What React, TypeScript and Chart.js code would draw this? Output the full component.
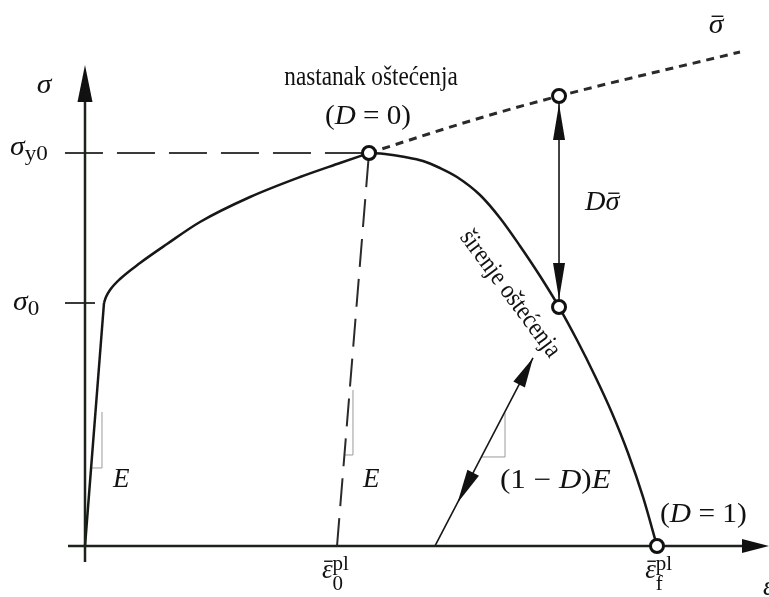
import React, { useEffect, useRef } from "react";
import { Chart, registerables } from "chart.js";

Chart.register(...registerables);

// ---------- data (strain normalised by ε̄f^pl, stress normalised by σy0) ----------
const X_RANGE = [-0.1486, 1.1958];
const Y_RANGE = [-0.1298, 1.3893];

const elasticEps = [0, 0.0332];
const elasticSig = [0, 0.6183];

const hardeningEps = [0.0332, 0.0367, 0.0437, 0.0612, 0.0962, 0.1434, 0.201, 0.2885, 0.3759, 0.4458, 0.4965];
const hardeningSig = [0.6183, 0.6336, 0.6514, 0.6794, 0.7201, 0.7684, 0.8244, 0.888, 0.9389, 0.9746, 1.0];

const softeningEps = [0.4965, 0.5245, 0.5594, 0.5909, 0.6206, 0.6503, 0.6906, 0.7255, 0.7605, 0.7955, 0.8287, 0.8601, 0.8916, 0.9213, 0.9493, 0.9755, 1.0];
const softeningSig = [1.0, 0.9975, 0.9898, 0.9796, 0.9618, 0.9389, 0.8931, 0.8346, 0.7634, 0.687, 0.6081, 0.5242, 0.4326, 0.3384, 0.2366, 0.1247, 0];

const effectiveEps = [0.4965, 0.6906, 0.8287, 1.1451];
const effectiveSig = [1.0, 1.0891, 1.145, 1.257];

const unloadEps = [0.4406, 0.4965];
const unloadSig = [0, 1.0];

const reloadEps = [0.6119, 0.7832];
const reloadSig = [0, 0.4784];

const dSigmaEps = [0.8287, 0.8287];
const dSigmaSig = [1.145, 0.6081];

const markerEps = [0.4965, 0.8287, 0.8287, 1.0];
const markerSig = [1.0, 1.145, 0.6081, 0];

const yieldLineEps = [-0.035, 0.4965];
const yieldLineSig = [1.0, 1.0];
const sigma0TickEps = [-0.035, 0.0175];
const sigma0TickSig = [0.6183, 0.6183];

const xAxisEps = [-0.0297, 1.15];
const xAxisSig = [0, 0];
const yAxisEps = [0, 0];
const yAxisSig = [-0.0407, 1.13];
const X_ARROW_TIP = 1.1958;
const Y_ARROW_TIP = 1.2239;

const slope1Eps = [0.0107, 0.0297, 0.0297];
const slope1Sig = [0.1985, 0.1985, 0.341];
const slope2Eps = [0.4535, 0.4685, 0.4685];
const slope2Sig = [0.2316, 0.2316, 0.397];
const slope3Eps = [0.693, 0.7343, 0.7343];
const slope3Sig = [0.2265, 0.2265, 0.3384];

// tick / annotation labels
const yTickLabels = [
  { main: "σ", sub: "y0", eps: -0.1311, sig: 0.9949 },
  { main: "σ", sub: "0", eps: -0.1259, sig: 0.6005 },
];
const xTickLabels = [
  { sub: "0", eps: 0.4143, sig: -0.0814 },
  { sub: "f", eps: 0.9794, sig: -0.0814 },
];

const SERIF = '"Liberation Serif", "Times New Roman", serif';

type Run = { t: string; size: number; italic?: boolean; dy?: number; bar?: boolean; back?: boolean };

function fontOf(r: Run) {
  return `${r.italic ? "italic " : ""}${r.size}px ${SERIF}`;
}

function drawRuns(ctx: CanvasRenderingContext2D, runs: Run[], x: number, y: number, align: "left" | "center", sx = 1) {
  ctx.save();
  ctx.textBaseline = "alphabetic";
  ctx.textAlign = "left";
  const widths = runs.map((r) => {
    ctx.font = fontOf(r);
    return ctx.measureText(r.t).width;
  });
  let total = 0;
  runs.forEach((r, i) => {
    if (r.back) total -= widths[i - 1];
    total += widths[i];
  });
  ctx.translate(x, y);
  ctx.scale(sx, 1);
  let cx = align === "center" ? -total / 2 : 0;
  runs.forEach((r, i) => {
    ctx.font = fontOf(r);
    if (r.back) cx -= widths[i - 1];
    const dy = r.dy || 0;
    ctx.fillText(r.t, cx, dy);
    if (r.bar) {
      ctx.beginPath();
      ctx.lineWidth = 1.4;
      ctx.moveTo(cx + widths[i] * 0.2, dy - r.size * 0.62);
      ctx.lineTo(cx + widths[i] * 1.0, dy - r.size * 0.62);
      ctx.stroke();
    }
    cx += widths[i];
  });
  ctx.restore();
}

function head(ctx: CanvasRenderingContext2D, tx: number, ty: number, fx: number, fy: number, len: number, hw: number) {
  const a = Math.atan2(ty - fy, tx - fx);
  const bx = tx - len * Math.cos(a);
  const by = ty - len * Math.sin(a);
  const nx = -Math.sin(a) * hw;
  const ny = Math.cos(a) * hw;
  ctx.beginPath();
  ctx.moveTo(tx, ty);
  ctx.lineTo(bx + nx, by + ny);
  ctx.lineTo(bx - nx, by - ny);
  ctx.closePath();
  ctx.fill();
}

const pts = (xs: number[], ys: number[]) => xs.map((x, i) => ({ x, y: ys[i] }));

const annotPlugin = {
  id: "annot",
  afterDatasetsDraw(chart: any) {
    const ctx: CanvasRenderingContext2D = chart.ctx;
    const sx = chart.scales.x;
    const sy = chart.scales.y;
    const px = (v: number) => sx.getPixelForValue(v);
    const py = (v: number) => sy.getPixelForValue(v);
    ctx.save();
    ctx.fillStyle = "#111";
    ctx.strokeStyle = "#111";

    // axis arrowheads
    head(ctx, px(X_ARROW_TIP), py(0), px(0), py(0), 27, 7);
    head(ctx, px(0), py(Y_ARROW_TIP), px(0), py(0), 37, 7.5);

    // D σ̄ double arrow heads
    const ax = px(dSigmaEps[0]);
    head(ctx, ax, py(dSigmaSig[0]) + 8, ax, py(dSigmaSig[1]), 36, 6);
    head(ctx, ax, py(dSigmaSig[1]) - 8, ax, py(dSigmaSig[0]), 36, 6);

    // reload arrow heads
    const rx0 = px(reloadEps[0]), ry0 = py(reloadSig[0]);
    const rx1 = px(reloadEps[1]), ry1 = py(reloadSig[1]);
    head(ctx, rx1, ry1, rx0, ry0, 30, 6.5);
    const f = 0.229;
    head(ctx, rx0 + (rx1 - rx0) * f, ry0 + (ry1 - ry0) * f, rx1, ry1, 34, 6.5);

    // ---- texts ----
    const M = 27;
    const S = 21;
    drawRuns(ctx, [{ t: "σ", size: M, italic: true }], px(-0.0717), py(1.1527), "center", 1.1);
    yTickLabels.forEach((l) =>
      drawRuns(ctx, [{ t: l.main, size: M, italic: true }, { t: l.sub, size: S, dy: 5 }], px(l.eps), py(l.sig), "left", 1.1)
    );
    xTickLabels.forEach((l) =>
      drawRuns(
        ctx,
        [
          { t: "ε", size: M, italic: true, bar: true },
          { t: "pl", size: S, dy: -8 },
          { t: l.sub, size: S, dy: 12, back: true },
        ],
        px(l.eps),
        py(l.sig),
        "left"
      )
    );
    drawRuns(ctx, [{ t: "ε", size: M, italic: true }], px(1.1853), py(-0.1247), "left");

    drawRuns(ctx, [{ t: "nastanak oštećenja", size: 27 }], px(0.5), py(1.173), "center", 0.86);
    drawRuns(
      ctx,
      [
        { t: "(", size: M },
        { t: "D", size: M, italic: true },
        { t: " = 0)", size: M },
      ],
      px(0.4948),
      py(1.0738),
      "center",
      1.08
    );
    drawRuns(ctx, [{ t: "σ", size: M, italic: true, bar: true }], px(1.1031), py(1.3053), "center", 1.1);
    drawRuns(
      ctx,
      [
        { t: "D", size: M, italic: true },
        { t: "σ", size: M, italic: true, bar: true },
      ],
      px(0.8741),
      py(0.855),
      "left",
      1.05
    );
    drawRuns(ctx, [{ t: "E", size: M, italic: true }], px(0.049), py(0.15), "left");
    drawRuns(ctx, [{ t: "E", size: M, italic: true }], px(0.486), py(0.15), "left");
    drawRuns(
      ctx,
      [
        { t: "(1 − ", size: M },
        { t: "D", size: M, italic: true },
        { t: ")", size: M },
        { t: "E", size: M, italic: true },
      ],
      px(0.7255),
      py(0.1476),
      "left",
      1.15
    );
    drawRuns(
      ctx,
      [
        { t: "(", size: M },
        { t: "D", size: M, italic: true },
        { t: " = 1)", size: M },
      ],
      px(1.0052),
      py(0.061),
      "left",
      1.09
    );

    // rotated label
    ctx.save();
    ctx.translate(px(0.743), py(0.6412));
    ctx.rotate((53.4 * Math.PI) / 180);
    ctx.scale(0.88, 1);
    ctx.font = `26px ${SERIF}`;
    ctx.textAlign = "center";
    ctx.textBaseline = "middle";
    ctx.fillText("širenje oštećenja", 0, 0);
    ctx.restore();

    ctx.restore();
  },
};

export default function App() {
  const ref = useRef<HTMLCanvasElement | null>(null);
  useEffect(() => {
    document.body.style.margin = "0";
    const canvas = ref.current;
    if (!canvas) return;
    const dark = "#151815";
    const line = (data: any, opts: any = {}) => ({
      data,
      showLine: true,
      pointRadius: 0,
      borderColor: dark,
      borderWidth: 2.5,
      tension: 0,
      fill: false,
      order: 2,
      ...opts,
    });
    const chart = new Chart(canvas, {
      type: "scatter",
      data: {
        datasets: [
          line(pts(xAxisEps, xAxisSig), { borderWidth: 2.5, borderColor: "#1b231b" }),
          line(pts(yAxisEps, yAxisSig), { borderWidth: 2.5, borderColor: "#1b231b" }),
          line(pts(yieldLineEps, yieldLineSig), { borderWidth: 2, borderColor: "#3a3a3a", borderDash: [38, 14] }),
          line(pts(sigma0TickEps, sigma0TickSig), { borderWidth: 2, borderColor: "#3a3a3a" }),
          line(pts(elasticEps, elasticSig), { borderWidth: 2.5 }),
          line(pts(hardeningEps, hardeningSig), { borderWidth: 2.5, cubicInterpolationMode: "monotone" }),
          line(pts(softeningEps, softeningSig), { borderWidth: 2.5, cubicInterpolationMode: "monotone" }),
          line(pts(effectiveEps, effectiveSig), { borderWidth: 3, borderColor: "#2a2a2a", borderDash: [8, 6], cubicInterpolationMode: "monotone" }),
          line(pts(unloadEps, unloadSig), { borderWidth: 2, borderColor: "#2a2a2a", borderDash: [28, 12] }),
          line(pts(reloadEps, reloadSig), { borderWidth: 1.6 }),
          line(pts(dSigmaEps, dSigmaSig), { borderWidth: 1.6 }),
          line(pts(slope1Eps, slope1Sig), { borderWidth: 1, borderColor: "#9a9a9a" }),
          line(pts(slope2Eps, slope2Sig), { borderWidth: 1, borderColor: "#9a9a9a" }),
          line(pts(slope3Eps, slope3Sig), { borderWidth: 1, borderColor: "#9a9a9a" }),
          {
            data: pts(markerEps, markerSig),
            showLine: false,
            pointRadius: 6.5,
            pointBorderWidth: 3,
            pointBackgroundColor: "#ffffff",
            pointBorderColor: "#111111",
            order: 0,
          },
        ],
      },
      options: {
        responsive: false,
        animation: false,
        events: [],
        layout: { padding: 0, autoPadding: false },
        plugins: { legend: { display: false }, tooltip: { enabled: false } },
        scales: {
          x: { type: "linear", min: X_RANGE[0], max: X_RANGE[1], display: false },
          y: { type: "linear", min: Y_RANGE[0], max: Y_RANGE[1], display: false },
        },
      },
      plugins: [annotPlugin],
    } as any);
    return () => chart.destroy();
  }, []);
  return (
    <div style={{ width: 769, height: 597, background: "#fff" }}>
      <canvas ref={ref} width={769} height={597} style={{ display: "block" }} />
    </div>
  );
}
